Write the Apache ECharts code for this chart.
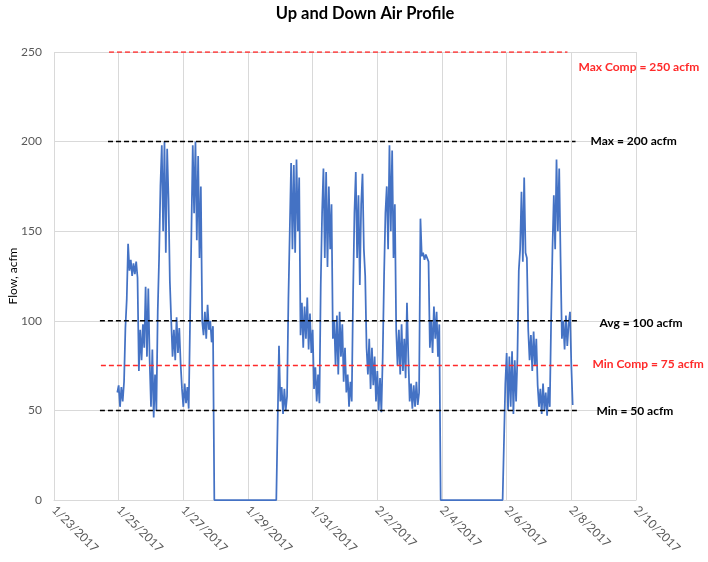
<!DOCTYPE html>
<html>
<head>
<meta charset="utf-8">
<script src="https://cdn.jsdelivr.net/npm/echarts@6/dist/echarts.min.js"></script>
<style>
html,body{margin:0;padding:0;background:#fff;}
#chart{width:708px;height:562px;}
</style>
</head>
<body>
<div id="chart"></div>
<script>
// X axis tick labels (every 2 days, starting 1/23/2017 = day 0)
const xTickLabels = ['1/23/2017','1/25/2017','1/27/2017','1/29/2017','1/31/2017','2/2/2017','2/4/2017','2/6/2017','2/8/2017','2/10/2017'];
// Hourly flow readings starting 1/24/2017 23:00 (day 1 + 23/24)
const startDay = 1 + 23 / 24;
const stepDay = 1 / 24;
const flow = [
  60,64,52,63,55,66,
  96,112,143,128,134,125,132,126,133,124,
  72,95,78,98,85,119,80,118,
  78,52,84,46,70,50,105,135,
  175,198,150,200,138,196,168,122,
  100,80,95,78,102,82,96,76,
  62,52,65,54,63,51,
  100,150,
  198,160,200,145,192,135,175,
  100,92,105,90,109,95,100,88,97,
  0,0,0,0,0,0,0,0,0,0,0,0,0,0,0,0,0,0,0,0,0,0,0,0,
  0,0,0,0,0,0,0,0,0,0,0,0,0,0,0,0,0,0,0,0,0,0,0,0,
  86,55,63,48,62,50,58,
  112,150,188,
  140,187,138,190,150,180,
  92,110,85,108,90,113,84,104,82,95,
  62,74,55,70,54,
  120,160,
  185,135,183,130,175,140,165,
  90,100,75,103,70,105,80,98,66,85,
  60,70,52,66,55,
  115,160,
  183,135,170,120,165,182,140,125,
  85,70,90,62,85,64,80,
  55,72,50,68,49,
  80,125,160,
  175,140,198,150,195,135,165,
  95,75,95,70,98,72,90,68,110,
  80,55,65,51,64,52,66,53,60,
  157,136,138,134,137,135,133,
  85,100,82,108,90,105,80,98,
  0,0,0,0,0,0,0,0,0,0,0,0,0,0,0,0,0,0,0,0,0,0,0,0,
  0,0,0,0,0,0,0,0,0,0,0,0,0,0,0,0,0,0,0,0,0,0,0,0,
  65,82,50,80,52,83,48,78,55,80,
  128,140,172,133,180,138,135,
  95,78,92,72,94,75,90,
  64,52,62,48,65,50,60,47,63,52,
  100,140,
  170,140,190,150,185,135,
  90,100,84,103,86,98,105,
  75,53
];
// Reference lines
const refValues = [250, 200, 100, 75, 50];
const refStart = [1.70, 1.67, 1.42, 1.45, 1.42];
const refEnd = [15.88, 16.13, 16.19, 16.22, 16.25];
const refLabels = ['Max Comp = 250 acfm', 'Max = 200 acfm', 'Avg = 100 acfm', 'Min Comp = 75 acfm', 'Min = 50 acfm'];
const refColors = ['#ff2a2a', '#000000', '#000000', '#ff2a2a', '#000000'];
const refLabelDx = [11, 15, 22, 14, 17];
const refLabelDy = [15, 0, 2, -1, 1];

const FONT = 'Lato, "Open Sans", sans-serif';
const chart = echarts.init(document.getElementById('chart'));

const series = [{
  type: 'line',
  data: flow.map((v, i) => [startDay + i * stepDay, v]),
  showSymbol: false,
  symbol: 'none',
  lineStyle: { color: '#4472C4', width: 1.75 },
  z: 2,
  animation: false
}];
refValues.forEach((v, k) => {
  series.push({
    type: 'line',
    data: [[refStart[k], v], [refEnd[k], v]],
    showSymbol: false,
    symbol: 'none',
    lineStyle: { color: refColors[k], width: 1.5, type: [5, 3] },
    z: 3,
    animation: false
  });
});

chart.setOption({
  animation: false,
  title: {
    text: 'Up and Down Air Profile',
    left: 360,
    top: 0,
    textAlign: 'center',
    textStyle: { fontFamily: FONT, fontWeight: 'bold', fontSize: 16.5, color: '#000' }
  },
  grid: { left: 54, right: 72, top: 52, bottom: 62, containLabel: false, outerBoundsMode: 'none' },
  xAxis: {
    type: 'value',
    min: 0,
    max: 18,
    interval: 2,
    axisLine: { show: true, lineStyle: { color: '#d9d9d9' } },
    axisTick: { show: false },
    splitLine: { show: true, lineStyle: { color: '#d9d9d9', width: 1 } },
    axisLabel: {
      rotate: -45,
      margin: 8,
      color: '#595959',
      fontSize: 12,
      fontFamily: FONT,
      formatter: v => xTickLabels[Math.round(v / 2)]
    }
  },
  yAxis: {
    type: 'value',
    min: 0,
    max: 250,
    interval: 50,
    name: 'Flow, acfm',
    nameLocation: 'middle',
    nameGap: 35,
    nameMoveOverlap: false,
    nameTextStyle: { fontFamily: FONT, fontSize: 12, color: '#000' },
    axisLine: { show: false },
    axisTick: { show: false },
    splitLine: { show: true, lineStyle: { color: '#d9d9d9', width: 1 } },
    axisLabel: { color: '#595959', fontSize: 12, fontFamily: FONT, margin: 12 }
  },
  series: series
});

const graphics = refValues.map((v, k) => {
  const p = chart.convertToPixel({ gridIndex: 0 }, [refEnd[k], v]);
  return {
    type: 'text',
    x: p[0] + refLabelDx[k],
    y: p[1] + refLabelDy[k],
    style: {
      text: refLabels[k],
      fill: refColors[k],
      font: 'bold 12px ' + FONT,
      textAlign: 'left',
      textVerticalAlign: 'middle'
    },
    z: 10
  };
});
chart.setOption({ graphic: graphics });
</script>
</body>
</html>
